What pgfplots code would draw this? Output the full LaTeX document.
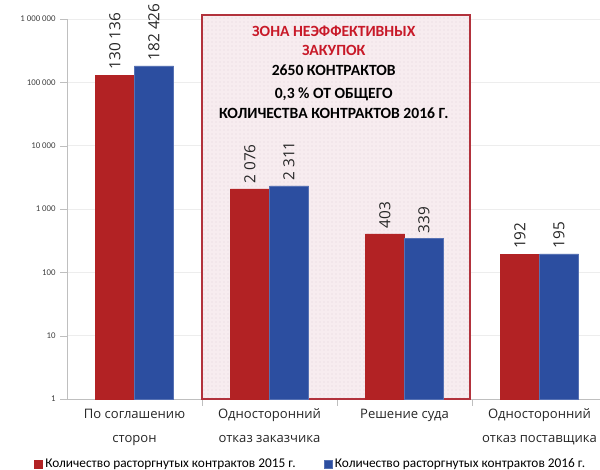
\documentclass[border=0pt]{standalone}
\usepackage{pgfplots}
\pgfplotsset{compat=1.18}
\usetikzlibrary{patterns}
\usepackage{fontspec}
\setmainfont{Carlito}
\newfontfamily\os{Open Sans}
\definecolor{barred}{RGB}{178,34,36}
\definecolor{barblue}{RGB}{44,78,160}
\definecolor{zonefill}{RGB}{247,236,239}
\definecolor{zonedots}{RGB}{228,214,218}
\definecolor{zoneedge}{RGB}{178,50,60}
\definecolor{zonetext}{RGB}{200,25,40}
\begin{document}
\begin{tikzpicture}
\path[use as bounding box] (-50.25pt,-53.25pt) rectangle (399.75pt,299.25pt);
\begin{axis}[
    scale only axis,
    width=405pt, height=285pt,
    ymode=log, ymin=1, ymax=1000000,
    xmin=-0.5, xmax=3.5,
    ybar=0pt, bar width=0.289,
    clip=false,
    axis lines*=left,
    axis line style={draw=black!25},
    ytick={1,10,100,1000,10000,100000,1000000},
    yticklabels={1,10,100,1 000,10 000,100 000,1 000 000},
    yminorticks=false,
    ymajorgrids,
    grid style={black!7},
    y tick style={draw=black!25},
    major tick length=5pt,
    tick align=outside,
    yticklabel style={font=\fontsize{6.6}{8}\selectfont, text=black!75},
    xtick={0,1,2,3},
    x tick style={draw=none},
    minor xtick={0.5,1.5,2.5,3.5},
    minor x tick style={draw=black!25},
    minor tick length=5pt,
    xticklabels={{По соглашению\\сторон},{Односторонний\\отказ заказчика},{Решение суда},{Односторонний\\отказ поставщика}},
    xticklabel style={align=center, font=\os\fontsize{9.8}{18}\selectfont, text=black!85, yshift=1pt},
    point meta=explicit symbolic,
    nodes near coords,
    nodes near coords style={rotate=90, anchor=west, font=\os\fontsize{11.5}{12}\selectfont, text=black!85, inner sep=4pt},
    legend columns=2,
    legend style={at={(0.452,-0.171)}, anchor=center, draw=none, font=\fontsize{10}{11}\selectfont,
        /tikz/every even column/.append style={column sep=19pt}},
    legend image code/.code={\fill[#1] (0pt,-3pt) rectangle (6pt,3pt);},
]
\draw[fill=zonefill, draw=none] (axis cs:0.5,1) rectangle (axis cs:2.485,1150000);
\fill[pattern=dots, pattern color=zonedots] (axis cs:0.5,1) rectangle (axis cs:2.485,1150000);
\draw[draw=zoneedge, line width=1.1pt] (axis cs:0.5,1) rectangle (axis cs:2.485,1150000);
\node[font=\bfseries\fontsize{11.7}{13}\selectfont, text=zonetext] at (rel axis cs:0.494,0.968) {ЗОНА НЕЭФФЕКТИВНЫХ};
\node[font=\bfseries\fontsize{11.7}{13}\selectfont, text=zonetext] at (rel axis cs:0.494,0.918) {ЗАКУПОК};
\node[font=\bfseries\fontsize{11.7}{13}\selectfont] at (rel axis cs:0.494,0.866) {2650 КОНТРАКТОВ};
\node[font=\bfseries\fontsize{11.7}{13}\selectfont] at (rel axis cs:0.494,0.803) {0,3 \% ОТ ОБЩЕГО};
\node[font=\bfseries\fontsize{11.7}{13}\selectfont] at (rel axis cs:0.494,0.753) {КОЛИЧЕСТВА КОНТРАКТОВ 2016 Г.};
\addplot[fill=barred, draw=barred] coordinates {
    (0,130136) [130 136]
    (1,2076) [2 076]
    (2,403) [403]
    (3,192) [192]
};
\addplot[fill=barblue, draw=barblue!80!white] coordinates {
    (0,182426) [182 426]
    (1,2311) [2 311]
    (2,339) [339]
    (3,195) [195]
};
\legend{Количество расторгнутых контрактов 2015 г.,Количество расторгнутых контрактов 2016 г.}
\end{axis}
\end{tikzpicture}
\end{document}
